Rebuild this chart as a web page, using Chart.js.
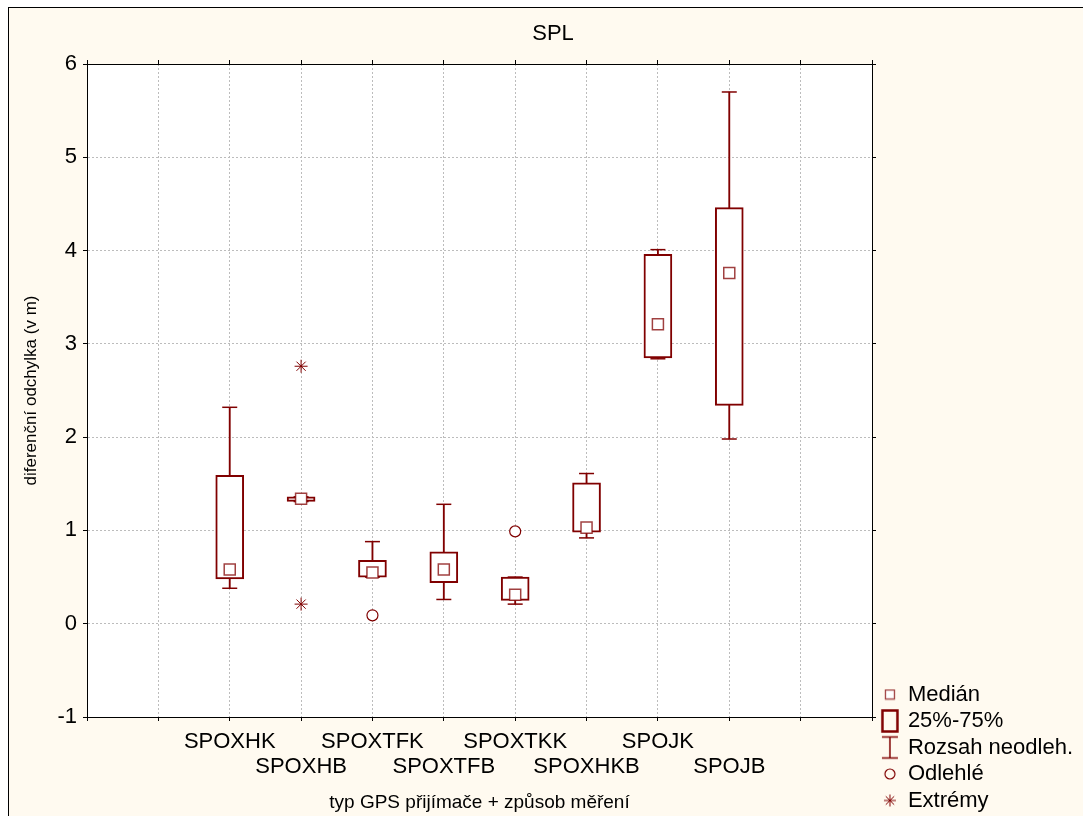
<!DOCTYPE html>
<html>
<head>
<meta charset="utf-8">
<script src="https://cdn.jsdelivr.net/npm/chart.js@4"></script>
<style>
  html, body { margin: 0; padding: 0; background: #fff; }
  #frame { position: absolute; left: 8px; top: 7px; right: 0; bottom: 0; background: #fffaf0;
           border-top: 1px solid #000; border-left: 1px solid #000; }
  #chart { position: absolute; left: 0; top: 0; }
</style>
</head>
<body>
<div id="frame"></div>
<canvas id="chart" width="1083" height="816"></canvas>
<script>
// Box plot values (metres)
const categories = ['SPOXHK', 'SPOXHB', 'SPOXTFK', 'SPOXTFB', 'SPOXTKK', 'SPOXHKB', 'SPOJK', 'SPOJB'];
// two empty slots either side, like the original axis
const axisLabels = ['', '', ...categories, '', ''];
const whiskerLow  = [0.38, 1.31, 0.50, 0.26, 0.21, 0.92, 2.84, 1.98];
const boxLow      = [0.48, 1.31, 0.50, 0.44, 0.25, 0.98, 2.85, 2.34];
const medians     = [0.58, 1.34, 0.55, 0.58, 0.31, 1.03, 3.21, 3.76];
const boxHigh     = [1.59, 1.36, 0.68, 0.77, 0.50, 1.51, 3.96, 4.46];
const whiskerHigh = [2.32, 1.36, 0.88, 1.28, 0.50, 1.61, 4.01, 5.70];
const outlierCats   = ['SPOXTFK', 'SPOXTKK'];
const outlierValues = [0.09, 0.99];
const extremeCats   = ['SPOXHB', 'SPOXHB'];
const extremeValues = [2.76, 0.21];
const legendLabels = ['Medián', '25%-75%', 'Rozsah neodleh.', 'Odlehlé', 'Extrémy'];

const MAROON = '#800000';
const MEDIAN_EDGE = 'rgba(128,0,0,0.75)';
const GRID = '#bcbcbc';
// where the plot frame sits in the picture
const PLOT = { left: 87, top: 64, right: 872, bottom: 717 };
const PAD_LEFT = 23;

Chart.defaults.font.family = '"Liberation Sans", Arial, sans-serif';
Chart.defaults.color = '#000';

// small canvases used as legend symbols
function icon(w, h, draw) {
  const c = document.createElement('canvas');
  c.width = w; c.height = h;
  const g = c.getContext('2d');
  g.strokeStyle = MAROON;
  g.fillStyle = '#fff';
  draw(g);
  return c;
}
const legendIcons = [
  icon(12, 12, g => { g.strokeStyle = MEDIAN_EDGE; g.lineWidth = 1.3; g.fillRect(1, 1, 10, 10); g.strokeRect(1.5, 1.5, 9, 9); }),
  icon(20, 26, g => { g.lineWidth = 2.5; g.strokeRect(2.5, 2.5, 15, 21); }),
  icon(20, 26, g => {
    g.lineWidth = 1.5;
    g.beginPath();
    g.moveTo(2, 2.5); g.lineTo(18, 2.5);
    g.moveTo(10, 2.5); g.lineTo(10, 23.5);
    g.moveTo(2, 23.5); g.lineTo(18, 23.5);
    g.stroke();
  }),
  icon(14, 14, g => { g.lineWidth = 1.2; g.beginPath(); g.arc(7, 7, 5, 0, Math.PI * 2); g.stroke(); }),
  icon(14, 14, g => {
    g.lineWidth = 1;
    g.beginPath();
    g.moveTo(7, 1); g.lineTo(7, 13);
    g.moveTo(1, 7); g.lineTo(13, 7);
    g.moveTo(2.8, 2.8); g.lineTo(11.2, 11.2);
    g.moveTo(11.2, 2.8); g.lineTo(2.8, 11.2);
    g.stroke();
  })
];

const plotBackground = {
  id: 'plotBackground',
  beforeDraw(chart) {
    const { ctx, chartArea: a } = chart;
    ctx.save();
    ctx.fillStyle = '#fff';
    ctx.fillRect(a.left, a.top, a.right - a.left, a.bottom - a.top);
    ctx.restore();
  }
};

const pointsOf = (cats, vals) => cats.map((c, i) => ({ x: c, y: vals[i] }));

const datasets = [
  {
    type: 'bar', label: 'whiskers',
    data: categories.map((c, i) => ({ x: c, y: [whiskerLow[i], whiskerHigh[i]] })),
    backgroundColor: MAROON, borderWidth: 0, barThickness: 1.2, grouped: false, order: 4
  },
  {
    type: 'bar', label: 'boxes',
    data: categories.map((c, i) => ({ x: c, y: [boxLow[i], boxHigh[i]] })),
    backgroundColor: '#fff', borderColor: MAROON, borderWidth: 2, borderSkipped: false,
    barThickness: 28, grouped: false, order: 3
  },
  {
    type: 'line', label: 'caps', showLine: false,
    data: pointsOf(categories, whiskerLow).concat(pointsOf(categories, whiskerHigh)),
    pointStyle: 'line', pointRadius: 7.5, borderColor: MAROON, pointBorderWidth: 1.5, order: 2
  },
  {
    type: 'line', label: 'medians', showLine: false,
    data: pointsOf(categories, medians),
    pointStyle: 'rect', pointRadius: 7.8, pointBackgroundColor: '#fff',
    pointBorderColor: MEDIAN_EDGE, pointBorderWidth: 1.5, order: 1
  },
  {
    type: 'line', label: 'outliers', showLine: false,
    data: pointsOf(outlierCats, outlierValues),
    pointStyle: 'circle', pointRadius: 5.5, pointBackgroundColor: '#fff',
    pointBorderColor: MAROON, pointBorderWidth: 1.2, order: 1
  },
  {
    type: 'line', label: 'extremes', showLine: false,
    data: pointsOf(extremeCats, extremeValues),
    pointStyle: 'star', pointRadius: 6.5, pointBorderColor: MAROON, pointBorderWidth: 1, order: 1
  }
];

new Chart(document.getElementById('chart'), {
  type: 'bar',
  data: { labels: axisLabels, datasets: datasets },
  plugins: [plotBackground],
  options: {
    responsive: false,
    animation: false,
    events: [],
    layout: { padding: { left: PAD_LEFT, right: 0, top: 0, bottom: 0 } },
    scales: {
      x: {
        type: 'category', offset: false,
        grid: { offset: false, color: GRID, tickColor: '#000', tickLength: 4 },
        border: { color: '#000', dash: [2, 2] },
        ticks: {
          autoSkip: false, maxRotation: 0, minRotation: 0, padding: 8,
          font: { size: 22, lineHeight: 1.15 },
          callback: (v, i) => {
            const k = categories.indexOf(axisLabels[i]);
            if (k < 0) return '';
            return k % 2 === 0 ? [axisLabels[i], ''] : ['', axisLabels[i]];
          }
        },
        title: { display: true, text: 'typ GPS přijímače + způsob měření', font: { size: 19 }, padding: { top: 0, bottom: 2 } },
        afterFit: s => { s.height = 816 - PLOT.bottom; }
      },
      x2: {
        type: 'category', position: 'top', offset: false, labels: axisLabels,
        grid: { offset: false, drawOnChartArea: false, tickColor: '#000', tickLength: 4 },
        border: { color: '#000' },
        ticks: { display: false },
        afterFit: s => { s.height = PLOT.top - s.chart.titleBlock.height; }
      },
      y: {
        type: 'linear', min: -1, max: 6,
        grid: { color: GRID, tickColor: '#000', tickLength: 4 },
        border: { color: '#000', dash: [2, 2] },
        ticks: { stepSize: 1, padding: 6, font: { size: 22 } },
        title: { display: true, text: 'diferenční odchylka (v m)', font: { size: 17, lineHeight: 1 }, padding: 0 },
        afterFit: s => { s.width = PLOT.left - PAD_LEFT; }
      },
      y2: {
        type: 'linear', position: 'right', min: -1, max: 6,
        grid: { drawOnChartArea: false, tickColor: '#000', tickLength: 4 },
        border: { color: '#000' },
        ticks: { stepSize: 1, display: false },
        afterFit: s => { s.width = s.chart.width - s.chart.legend.width - PLOT.right; }
      }
    },
    plugins: {
      title: {
        display: true, text: 'SPL', color: '#000',
        font: { size: 22, weight: 'normal' },
        padding: { top: 21, bottom: 10 }
      },
      tooltip: { enabled: false },
      legend: {
        position: 'right', align: 'end',
        maxWidth: 240,
        onClick: null,
        labels: {
          usePointStyle: true, pointStyleWidth: 14, padding: 4.5,
          font: { size: 22 }, color: '#000',
          generateLabels: () => legendLabels.map((text, i) => ({
            text: text, pointStyle: legendIcons[i], fontColor: '#000',
            fillStyle: 'transparent', strokeStyle: 'transparent', lineWidth: 0, hidden: false
          }))
        }
      }
    }
  }
});
</script>
</body>
</html>
